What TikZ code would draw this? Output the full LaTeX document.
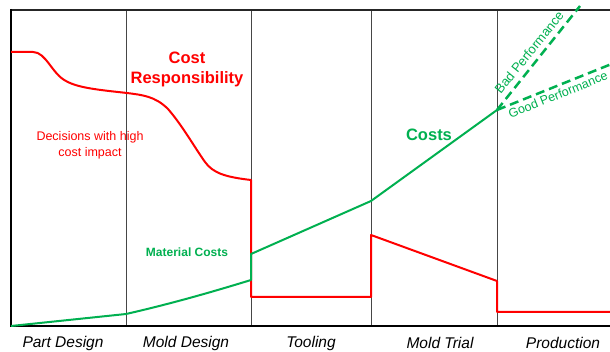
\documentclass[tikz,border=0pt]{standalone}
\usepackage{fontspec}
\setmainfont{Liberation Sans}
\definecolor{cred}{RGB}{255,0,0}
\definecolor{cgreen}{RGB}{0,176,80}
\definecolor{cdiv}{RGB}{70,70,70}
\begin{document}
\begin{tikzpicture}[x=1pt,y=-1pt,
  divider/.style={draw=cdiv,line width=0.9pt},
  redline/.style={draw=cred,line width=2pt,line join=round},
  greenline/.style={draw=cgreen,line width=2pt,line join=round},
  dashline/.style={draw=cgreen,line width=2.5pt,dash pattern=on 9pt off 5pt},
  phase/.style={font=\fontsize{15.5}{18}\selectfont\itshape,text=black,inner sep=0pt},
  bigred/.style={font=\fontsize{16.5}{20}\selectfont\bfseries,text=cred,align=center,inner sep=0pt},
  smallred/.style={font=\fontsize{12.5}{16}\selectfont,text=cred,align=center,inner sep=0pt},
  greenlab/.style={text=cgreen,inner sep=0pt}]
\useasboundingbox (0,0) rectangle (610,352);
\fill[white] (0,0) rectangle (610,352);
% dividers
\foreach \x in {126,251,371,497} \draw[divider] (\x,10) -- (\x,326);
% frame
\draw[black!85,line width=2pt] (11,10) -- (612,10);
\draw[black,line width=2pt] (11,9) -- (11,327);
\draw[black,line width=2.5pt] (10,326) -- (612,326);
% red cost responsibility curve
\draw[redline] (11,52) -- (33,52) .. controls (46,52) and (52,74) .. (66,81)
  .. controls (78,88) and (100,90) .. (127,93)
  .. controls (142,95) and (155,96) .. (168,109)
  .. controls (182,125) and (195,148) .. (205,162)
  .. controls (213,173) and (225,177) .. (251,180)
  -- (251,297) -- (371,297) -- (371,235) -- (497,281) -- (497,312) -- (612,312);
% green costs curve
\draw[greenline] (11,326) -- (126,314) .. controls (170,304) and (212,292) .. (251,280)
  -- (251,254) -- (371,201) -- (497,110);
\draw[dashline] (497,110) -- (580,6);
\draw[dashline] (497,110) -- (614,63);
% labels
\node[bigred] (cr) at (187,69) {Cost\\Responsibility};
\node[smallred] (dec) at (90,145) {Decisions with high\\cost impact};
\node[greenlab,font=\fontsize{16.5}{20}\selectfont\bfseries] (costs) at (429,135) {Costs};
\node[greenlab,font=\fontsize{12}{14}\selectfont\bfseries] (mat) at (187,252) {Material Costs};
\node[greenlab,font=\fontsize{13}{15}\selectfont,rotate=51,anchor=south west] (bad) at (501,95) {Bad Performance};
\node[greenlab,font=\fontsize{12.5}{15}\selectfont,rotate=22,anchor=north west] (good) at (507,110) {Good Performance};
\node[phase] (p1) at (63,343) {Part Design};
\node[phase] (p2) at (186,343) {Mold Design};
\node[phase] (p3) at (311,343) {Tooling};
\node[phase] (p4) at (440,343) {Mold Trial};
\node[phase] (p5) at (563,343) {Production};
\end{tikzpicture}
\end{document}
